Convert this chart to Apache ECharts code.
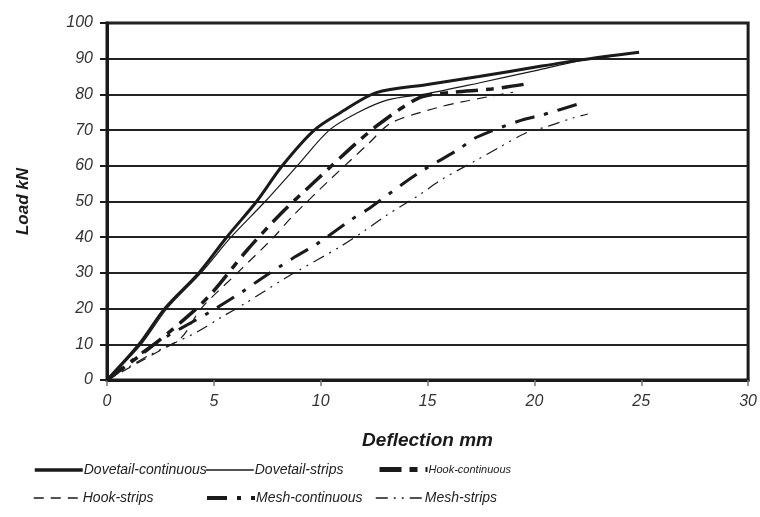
<!DOCTYPE html>
<html><head><meta charset="utf-8">
<script src="https://cdn.jsdelivr.net/npm/echarts@6/dist/echarts.min.js"></script>
<style>html,body{margin:0;padding:0;background:#fff}#c{width:760px;height:517px}</style>
</head><body><div id="c"></div>
<script>
const seriesNames = ['Dovetail-continuous','Dovetail-strips','Hook-continuous','Hook-strips','Mesh-continuous','Mesh-strips'];
const xTicks = [0,5,10,15,20,25,30];
const yTicks = [0,10,20,30,40,50,60,70,80,90,100];

// [deflection mm, load kN]
const dovetailContinuous = [[0,0],[1.5,10],[2.7,20],[4.3,30],[5.6,40],[7.0,50],[8.2,60],[9.7,70],[10.9,74.8],[12.6,80.5],[15,82.8],[17.4,85],[20,87.6],[22.1,89.6],[24.9,91.8]];
const dovetailStrips = [[0,0],[1.6,10],[2.8,20],[4.4,30],[5.8,40],[7.4,50],[8.9,60],[10.4,70],[11.7,74.8],[13.1,78.4],[15,80.2],[17.4,83.2],[20,86.6],[22.1,89.4],[23.5,90.6]];
const hookContinuous = [[0,0],[2,9],[4,19],[5,25],[6.5,36],[8.2,47],[9.8,56],[11.6,66],[12.8,72],[14.6,79],[16,80.5],[18,81.5],[19.7,83]];
const hookStrips = [[0,0],[2.4,8],[3.5,12],[4.4,20],[6.1,30],[7.8,40],[8.7,46],[10.5,56.5],[12.2,66],[13.3,72],[15.4,76.2],[16.6,77.9],[17.8,79.3],[19,80.6]];
const meshContinuous = [[0,0],[2.2,10],[4.8,19],[6.3,24.6],[7.2,28.3],[8.8,34.5],[9.8,38],[11.4,44.8],[12.3,48.2],[13.9,55.2],[14.8,58.8],[16.4,64.4],[17.3,68],[19.4,72.8],[20.4,74.3],[22.2,77.6]];
const meshStrips = [[0,0],[2,7],[4.2,13.4],[5.3,17.4],[6.5,21.6],[8.2,28],[9,30.8],[10.9,37.3],[12.1,42],[13.1,46.2],[14.6,51.8],[15.7,56.3],[17.3,61.6],[18.4,65.3],[19.6,69.2],[20.6,71],[21.8,73.4],[22.5,74.5]];

const seriesData = [dovetailContinuous, dovetailStrips, hookContinuous, hookStrips, meshContinuous, meshStrips];
const styles = [
  {width:3, type:'solid', lw:3.5},
  {width:1.2, type:'solid', lw:1.5},
  {width:3.5, type:[22,8,8,8], lw:5},
  {width:1.2, type:[10,7], lw:1.5},
  {width:3, type:[20,10,4,10], lw:4},
  {width:1.2, type:[12,6,2,6,2,6], lw:1.5}
];
const FONT = '"Liberation Sans", Arial, sans-serif';

const legendPos = [
  {left:33, top:463, fs:14},
  {left:205, top:463, fs:14},
  {left:377, top:464, fs:11},
  {left:33, top:491, fs:14},
  {left:205, top:491, fs:14},
  {left:375, top:491, fs:14}
];

const chart = echarts.init(document.getElementById('c'), null, {renderer:'canvas'});
chart.setOption({
  animation:false,
  backgroundColor:'#fff',
  grid:{left:107, right:11, top:23, bottom:137, show:true, borderColor:'#1a1a1a', borderWidth:3, backgroundColor:'transparent'},
  xAxis:{
    type:'value', min:0, max:30, interval:5,
    name:'Deflection mm', nameLocation:'middle', nameGap:51,
    nameTextStyle:{fontFamily:FONT, fontSize:19, fontWeight:'bold', fontStyle:'italic', color:'#1a1a1a'},
    axisLine:{show:true, lineStyle:{color:'#1a1a1a', width:3}},
    axisTick:{show:true, length:6, lineStyle:{color:'#777', width:1.5}},
    axisLabel:{fontFamily:FONT, fontSize:16, fontStyle:'italic', color:'#333', margin:14,
      formatter:v=>xTicks.includes(v)?String(v):''},
    splitLine:{show:false}
  },
  yAxis:{
    type:'value', min:0, max:100, interval:10,
    name:'Load kN', nameLocation:'middle', nameGap:75, nameRotate:90,
    nameTextStyle:{fontFamily:FONT, fontSize:17, fontWeight:'bold', fontStyle:'italic', color:'#1a1a1a'},
    axisLine:{show:true, lineStyle:{color:'#1a1a1a', width:3}},
    axisTick:{show:true, length:7, lineStyle:{color:'#1a1a1a', width:2}},
    axisLabel:{fontFamily:FONT, fontSize:16, fontStyle:'italic', color:'#333', margin:14,
      formatter:v=>yTicks.includes(v)?String(v):''},
    splitLine:{show:true, lineStyle:{color:'#222', width:2}}
  },
  legend: seriesNames.map((n,i)=>({
    data:[n], left:legendPos[i].left, top:legendPos[i].top, padding:0,
    itemWidth:48, itemHeight:12, itemGap:0,
    itemStyle:{opacity:0},
    lineStyle:{width:styles[i].lw, type:styles[i].type, color:'#1a1a1a'},
    textStyle:{fontFamily:FONT, fontSize:legendPos[i].fs, fontStyle:'italic', color:'#222', padding:[0,0,0,-4]}
  })),
  series: seriesNames.map((n,i)=>({
    name:n, type:'line', data:seriesData[i], symbol:'none', smooth:0.3,
    lineStyle:{color:'#1a1a1a', width:styles[i].width, type:styles[i].type},
    itemStyle:{color:'#1a1a1a'},
    z: 3
  }))
});
</script></body></html>
